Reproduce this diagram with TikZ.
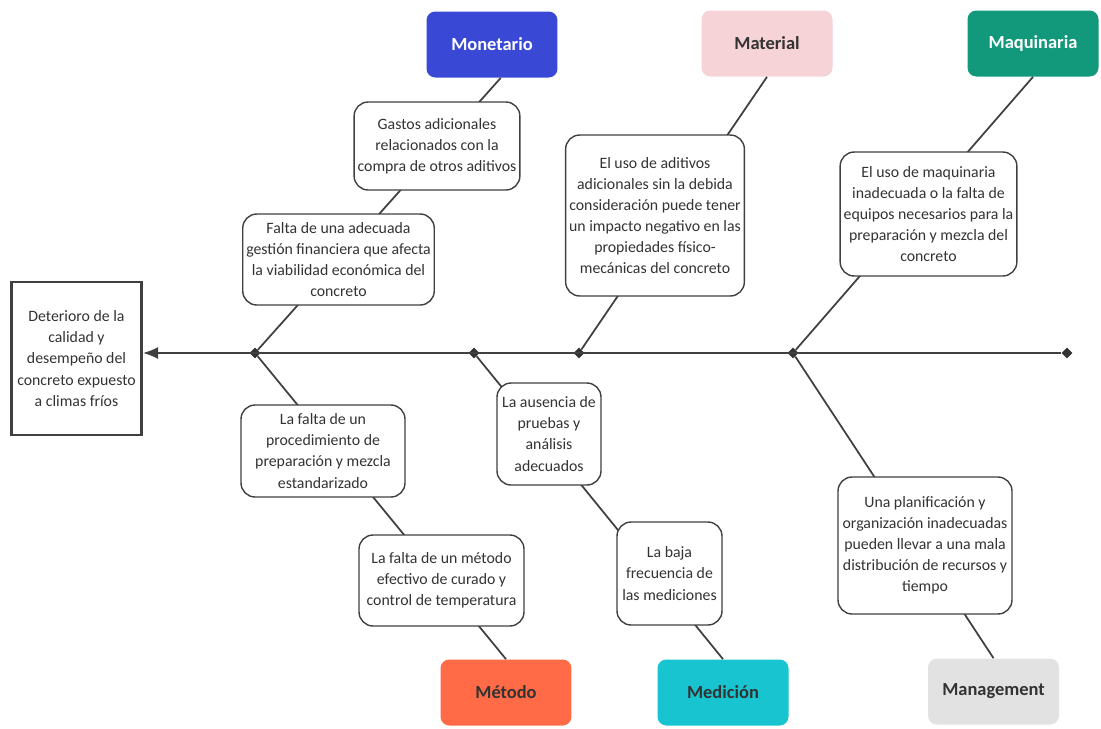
\documentclass[tikz,border=0pt]{standalone}
\usepackage{fontspec}
\setmainfont{Carlito}
\usetikzlibrary{positioning,arrows.meta,shapes.geometric}
\definecolor{monblue}{RGB}{57,73,214}
\definecolor{matpink}{RGB}{246,211,214}
\definecolor{maqgreen}{RGB}{18,152,122}
\definecolor{metorange}{RGB}{255,107,70}
\definecolor{medcyan}{RGB}{23,196,207}
\definecolor{mangray}{RGB}{226,226,226}
\begin{document}
\begin{tikzpicture}[x=0.02cm, y=-0.02cm,
    every node/.style={font=\fontsize{9}{12}\selectfont, text=black!80},
    cause/.style={draw=black!75, line width=0.8pt, rounded corners=8pt, fill=white, align=center, inner sep=2pt},
    categ/.style={rounded corners=5pt, minimum width=2.62cm, minimum height=1.32cm, font=\fontsize{10.5}{13}\selectfont\bfseries},
    bone/.style={draw=black!75, line width=1pt},
    knot/.style={diamond, fill=black!80, inner sep=0pt, minimum size=0.22cm}]
        \useasboundingbox (0,0) rectangle (1101,728);
        % effect
        \node[draw=black!75, line width=1.6pt, minimum width=2.54cm, minimum height=3.06cm, align=center] (eff) at (76.5,358.5)
            {Deterioro de la\\calidad y\\desempeño del\\concreto expuesto\\a climas fríos};
        % categories
        \node[categ,fill=monblue,text=white] (mon) at (492,44.5) {Monetario};
        \node[categ,fill=matpink] (mat) at (767,43.5) {Material};
        \node[categ,fill=maqgreen,text=white] (maq) at (1033,43.5) {Maquinaria};
        \node[categ,fill=metorange] (met) at (506,692.5) {Método};
        \node[categ,fill=medcyan] (med) at (723,692.5) {Medición};
        \node[categ,fill=mangray] (man) at (993.5,691.5) {Management};
        % spine
        \node[knot] (d1) at (255,353) {};
        \node[knot] (d2) at (474,353) {};
        \node[knot] (d3) at (579,353) {};
        \node[knot] (d4) at (793,353) {};
        \node[knot] (d5) at (1067,353) {};
        \draw[bone,-{Latex[length=3mm,width=2.4mm]}] (d5) -- (eff.east |- d5);
        \draw[bone] (d1) -- ([xshift=5]mon.south);\draw[bone] (d3) -- (mat.south);\draw[bone] (d4) -- (maq.south);
        \draw[bone] (d1) -- (met.north);\draw[bone] (d2) -- (med.north);\draw[bone] (d4) -- (man.north);
        % causes
        \node[cause,minimum width=3.28cm,minimum height=1.76cm] (gas) at (437,146)
            {Gastos adicionales\\relacionados con la\\compra de otros aditivos};
        \node[cause,minimum width=3.78cm,minimum height=1.82cm] (fin) at (338.5,259.5)
            {Falta de una adecuada\\gestión financiera que afecta\\la viabilidad económica del\\concreto};
        \node[cause,minimum width=3.56cm,minimum height=3.22cm] (adi) at (655,215.5)
            {El uso de aditivos\\adicionales sin la debida\\consideración puede tener\\un impacto negativo en las\\propiedades físico-\\mecánicas del concreto};
        \node[cause,minimum width=3.46cm,minimum height=2.48cm] (equ) at (928.5,214)
            {El uso de maquinaria\\inadecuada o la falta de\\equipos necesarios para la\\preparación y mezcla del\\concreto};
        \node[cause,minimum width=3.28cm,minimum height=1.84cm] (pro) at (323,451)
            {La falta de un\\procedimiento de\\preparación y mezcla\\estandarizado};
        \node[cause,minimum width=3.3cm,minimum height=1.82cm] (cur) at (441.5,580.5)
            {La falta de un método\\efectivo de curado y\\control de temperatura};
        \node[cause,minimum width=2.08cm,minimum height=2.04cm] (pru) at (549,434)
            {La ausencia de\\pruebas y\\análisis\\adecuados};
        \node[cause,minimum width=2.1cm,minimum height=2.06cm] (fre) at (669.5,573.5)
            {La baja\\frecuencia de\\las mediciones};
        \node[cause,minimum width=3.48cm,minimum height=2.74cm] (pla) at (925,545.5)
            {Una planificación y\\organización inadecuadas\\pueden llevar a una mala\\distribución de recursos y\\tiempo};
      \end{tikzpicture}
\end{document}
